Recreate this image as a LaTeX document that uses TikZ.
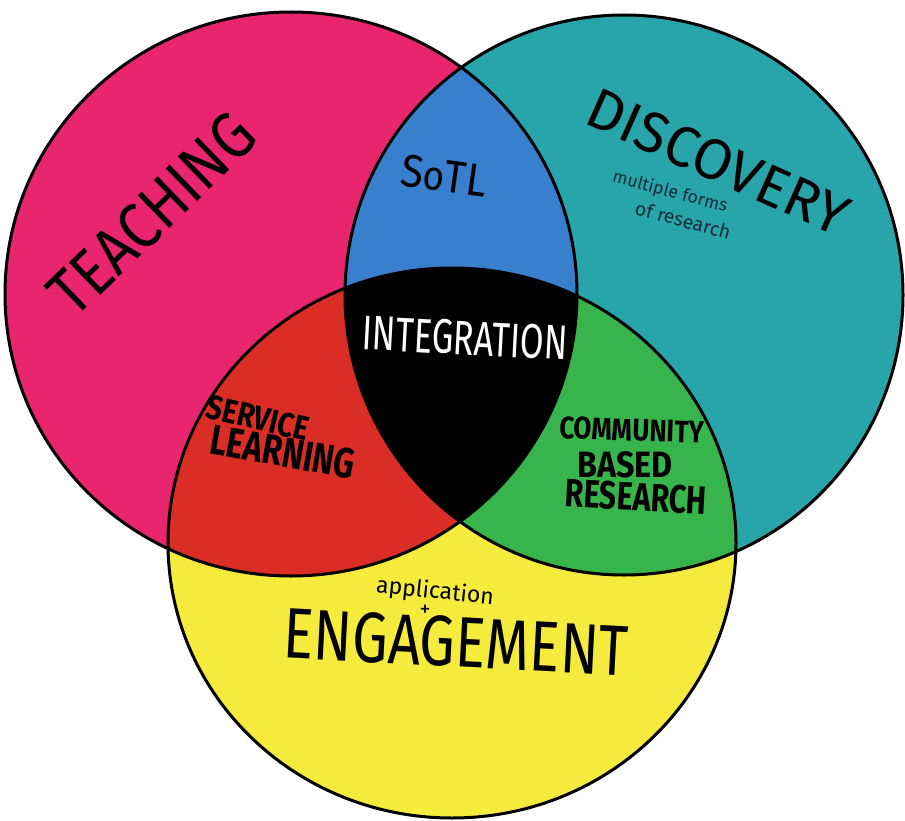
\documentclass[tikz,border=0pt]{standalone}
\usepackage{fontspec}
\setmainfont{Fira Sans}
\usepackage{graphicx}
\definecolor{teachc}{RGB}{233,37,110}
\definecolor{discc}{RGB}{40,165,170}
\definecolor{engc}{RGB}{245,235,60}
\definecolor{sotlc}{RGB}{56,128,206}
\definecolor{servc}{RGB}{218,45,38}
\definecolor{commc}{RGB}{55,180,75}
\definecolor{smallc}{RGB}{20,45,55}
\tikzset{
  lbl/.style={inner sep=0pt, outer sep=0pt, text=black},
  outline/.style={draw=black, line width=3pt}
}
\begin{document}
\begin{tikzpicture}[x=1pt,y=-1pt]
\useasboundingbox (0,0) rectangle (905,821);
% base fills
\fill[teachc] (291,294) ellipse [x radius=286, y radius=282];
\fill[discc] (624,295) ellipse [x radius=279, y radius=280];
\fill[engc] (452,543) ellipse [x radius=284, y radius=275];
% pairwise intersections
\begin{scope}
  \clip (291,294) ellipse [x radius=286, y radius=282];
  \fill[sotlc] (624,295) ellipse [x radius=279, y radius=280];
  \fill[servc] (452,543) ellipse [x radius=284, y radius=275];
\end{scope}
\begin{scope}
  \clip (624,295) ellipse [x radius=279, y radius=280];
  \fill[commc] (452,543) ellipse [x radius=284, y radius=275];
\end{scope}
\begin{scope}
  \clip (291,294) ellipse [x radius=286, y radius=282];
  \clip (624,295) ellipse [x radius=279, y radius=280];
  \fill[black] (452,543) ellipse [x radius=284, y radius=275];
\end{scope}
% outlines
\draw[outline] (291,294) ellipse [x radius=286, y radius=282];
\draw[outline] (624,295) ellipse [x radius=279, y radius=280];
\draw[outline] (452,543) ellipse [x radius=284, y radius=275];
% labels
\node[lbl, rotate=44] (teach) at (152,214) {\resizebox{258pt}{46pt}{TEACHING}};
\node[lbl, rotate=-24] (disc) at (718,162) {\resizebox{280pt}{40pt}{DISCOVERY}};
\node[lbl, rotate=-15, text=smallc] (mult) at (670,192) {\resizebox{118pt}{!}{multiple forms}};
\node[lbl, rotate=-15, text=smallc] (ofres) at (683,220) {\resizebox{98pt}{!}{of research}};
\node[lbl, rotate=-8] (sotl) at (444,176) {\resizebox{86pt}{32pt}{S{\small o}TL}};
\node[lbl, rotate=-3, text=white] (integ) at (465,338) {\resizebox{205pt}{34pt}{INTEGRATION}};
\node[lbl, rotate=-13] (serv) at (258,418) {\resizebox{104pt}{24pt}{\bfseries SERVICE}};
\node[lbl, rotate=-10] (learn) at (283,452) {\resizebox{146pt}{30pt}{\bfseries LEARNING}};
\node[lbl, rotate=-2] (comm) at (632,430) {\resizebox{145pt}{22pt}{\bfseries COMMUNITY}};
\node[lbl] (based) at (625,465) {\resizebox{95pt}{26pt}{\bfseries BASED}};
\node[lbl, rotate=-3] (resr) at (636,497) {\resizebox{142pt}{28pt}{\bfseries RESEARCH}};
\node[lbl, rotate=-6] (appl) at (435,592) {\resizebox{118pt}{!}{application}};
\node[lbl] (plus) at (425,611) {\resizebox{11pt}{!}{+}};
\node[lbl, rotate=-3] (eng) at (456,642) {\resizebox{345pt}{50pt}{ENGAGEMENT}};
\end{tikzpicture}
\end{document}
